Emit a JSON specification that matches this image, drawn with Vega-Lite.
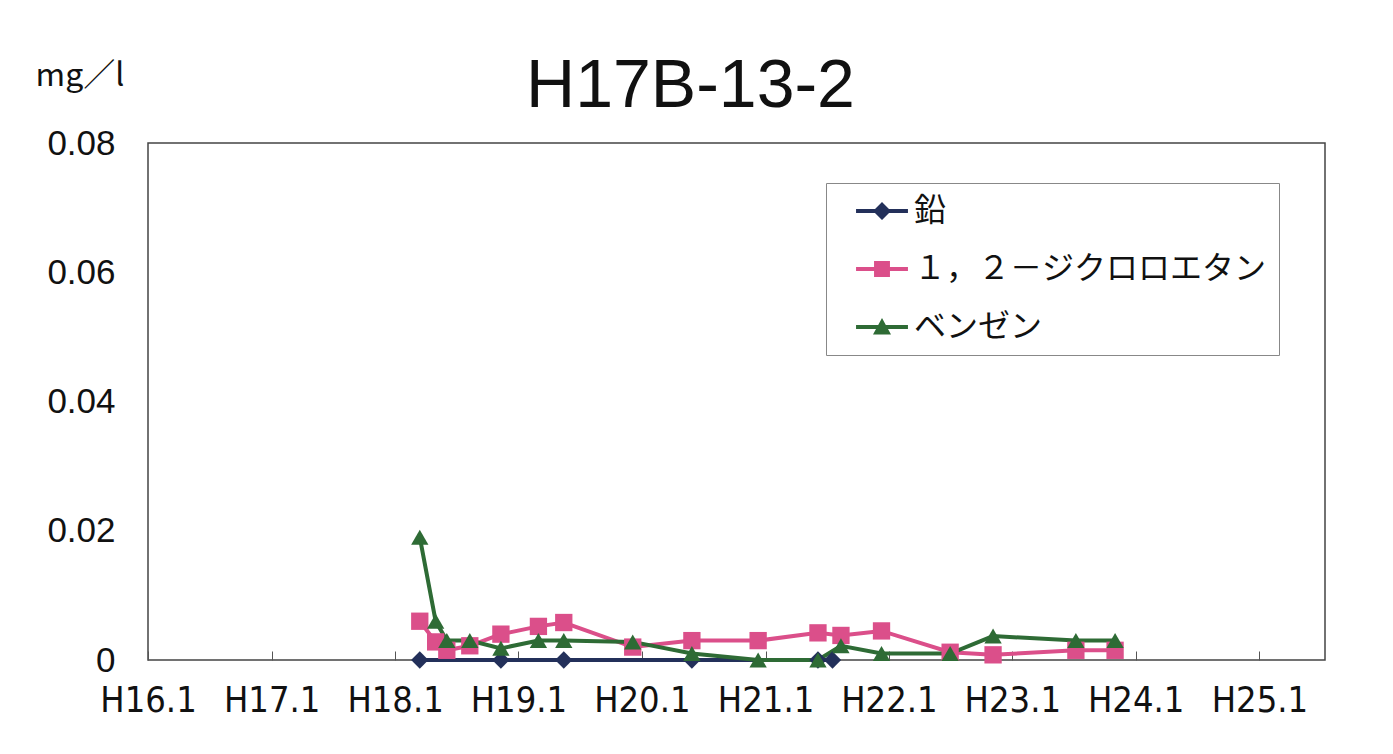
{
  "$schema": "https://vega.github.io/schema/vega-lite/v6.json",
  "width": 1177,
  "height": 517,
  "autosize": {"type": "none"},
  "padding": {"left": 148, "top": 143, "right": 68, "bottom": 94},
  "background": "white",
  "config": {
    "view": {"stroke": "#444", "strokeWidth": 1.5},
    "font": "Liberation Sans"
  },
  "title": {
    "text": "H17B-13-2",
    "font": "Liberation Sans",
    "fontSize": 68,
    "fontWeight": "normal",
    "color": "#111",
    "anchor": "middle",
    "frame": "group",
    "dx": -46,
    "dy": 62,
    "offset": 0
  },
  "data": {
    "values": [
      {"date": "2006-03-15", "series": "鉛", "value": 0},
      {"date": "2006-11-10", "series": "鉛", "value": 0},
      {"date": "2007-05-15", "series": "鉛", "value": 0},
      {"date": "2008-05-28", "series": "鉛", "value": 0},
      {"date": "2009-06-05", "series": "鉛", "value": 0},
      {"date": "2009-07-18", "series": "鉛", "value": 0},
      {"date": "2006-03-15", "series": "１，２－ジクロロエタン", "value": 0.006},
      {"date": "2006-05-01", "series": "１，２－ジクロロエタン", "value": 0.0028},
      {"date": "2006-06-03", "series": "１，２－ジクロロエタン", "value": 0.0015},
      {"date": "2006-08-10", "series": "１，２－ジクロロエタン", "value": 0.0022},
      {"date": "2006-11-10", "series": "１，２－ジクロロエタン", "value": 0.004},
      {"date": "2007-03-01", "series": "１，２－ジクロロエタン", "value": 0.0052},
      {"date": "2007-05-15", "series": "１，２－ジクロロエタン", "value": 0.0058},
      {"date": "2007-12-05", "series": "１，２－ジクロロエタン", "value": 0.002},
      {"date": "2008-05-28", "series": "１，２－ジクロロエタン", "value": 0.003},
      {"date": "2008-12-10", "series": "１，２－ジクロロエタン", "value": 0.003},
      {"date": "2009-06-05", "series": "１，２－ジクロロエタン", "value": 0.0042},
      {"date": "2009-08-12", "series": "１，２－ジクロロエタン", "value": 0.0038},
      {"date": "2009-12-10", "series": "１，２－ジクロロエタン", "value": 0.0045},
      {"date": "2010-07-01", "series": "１，２－ジクロロエタン", "value": 0.0012},
      {"date": "2010-11-05", "series": "１，２－ジクロロエタン", "value": 0.0008},
      {"date": "2011-07-08", "series": "１，２－ジクロロエタン", "value": 0.0015},
      {"date": "2011-11-01", "series": "１，２－ジクロロエタン", "value": 0.0015},
      {"date": "2006-03-15", "series": "ベンゼン", "value": 0.019},
      {"date": "2006-05-01", "series": "ベンゼン", "value": 0.006},
      {"date": "2006-06-03", "series": "ベンゼン", "value": 0.003},
      {"date": "2006-08-10", "series": "ベンゼン", "value": 0.003},
      {"date": "2006-11-10", "series": "ベンゼン", "value": 0.0018},
      {"date": "2007-03-01", "series": "ベンゼン", "value": 0.003},
      {"date": "2007-05-15", "series": "ベンゼン", "value": 0.003},
      {"date": "2007-12-05", "series": "ベンゼン", "value": 0.0028},
      {"date": "2008-05-28", "series": "ベンゼン", "value": 0.001},
      {"date": "2008-12-10", "series": "ベンゼン", "value": 0},
      {"date": "2009-06-05", "series": "ベンゼン", "value": 0},
      {"date": "2009-08-12", "series": "ベンゼン", "value": 0.0022},
      {"date": "2009-12-10", "series": "ベンゼン", "value": 0.001},
      {"date": "2010-07-01", "series": "ベンゼン", "value": 0.001},
      {"date": "2010-11-05", "series": "ベンゼン", "value": 0.0037},
      {"date": "2011-07-08", "series": "ベンゼン", "value": 0.003},
      {"date": "2011-11-01", "series": "ベンゼン", "value": 0.003}
    ],
    "format": {"parse": {"date": "utc:'%Y-%m-%d'"}}
  },
  "encoding": {
    "x": {
      "field": "date",
      "type": "temporal",
      "scale": {
        "type": "utc",
        "domain": [
          {"year": 2004, "month": 1, "date": 1, "utc": true},
          {"year": 2013, "month": 7, "date": 14, "utc": true}
        ]
      },
      "axis": {
        "title": null,
        "domain": false,
        "grid": false,
        "values": [
          {"year": 2004, "month": 1, "date": 1, "utc": true},
          {"year": 2005, "month": 1, "date": 1, "utc": true},
          {"year": 2006, "month": 1, "date": 1, "utc": true},
          {"year": 2007, "month": 1, "date": 1, "utc": true},
          {"year": 2008, "month": 1, "date": 1, "utc": true},
          {"year": 2009, "month": 1, "date": 1, "utc": true},
          {"year": 2010, "month": 1, "date": 1, "utc": true},
          {"year": 2011, "month": 1, "date": 1, "utc": true},
          {"year": 2012, "month": 1, "date": 1, "utc": true},
          {"year": 2013, "month": 1, "date": 1, "utc": true}
        ],
        "labelExpr": "'H' + (utcyear(datum.value) - 1988) + '.1'",
        "labelFont": "DejaVu Sans Condensed",
        "labelFontSize": 36,
        "labelColor": "#111",
        "labelPadding": 49,
        "labelBaseline": "middle",
        "labelFlush": false,
        "labelOverlap": false,
        "ticks": true,
        "tickSize": -9,
        "tickColor": "#555",
        "tickWidth": 1
      }
    },
    "y": {
      "field": "value",
      "type": "quantitative",
      "scale": {"domain": [0, 0.08], "nice": false},
      "axis": {
        "values": [0, 0.02, 0.04, 0.06, 0.08],
        "labelExpr": "datum.value === 0 ? '0' : format(datum.value, '.2f')",
        "labelFont": "Liberation Sans",
        "labelFontSize": 35,
        "labelColor": "#111",
        "labelPadding": 33,
        "ticks": false,
        "domain": false,
        "grid": false,
        "title": "mg／l",
        "titleFont": "Noto Sans CJK JP",
        "titleFontSize": 32,
        "titleFontWeight": "normal",
        "titleColor": "#111",
        "titleAngle": 0,
        "titleAlign": "left",
        "titleBaseline": "middle",
        "titleX": -113,
        "titleY": -68
      }
    },
    "color": {
      "field": "series",
      "type": "nominal",
      "scale": {
        "domain": ["鉛", "１，２－ジクロロエタン", "ベンゼン"],
        "range": ["#23305A", "#DB4F8A", "#2E6B35"]
      },
      "legend": {
        "title": null,
        "orient": "none",
        "legendX": 678,
        "legendY": 40,
        "strokeColor": "#888",
        "fillColor": "white",
        "padding": 12,
        "rowPadding": 26,
        "symbolSize": 900,
        "symbolOffset": 28,
        "symbolStrokeWidth": 0,
        "labelOffset": 16,
        "labelFont": "Noto Sans CJK JP",
        "labelFontSize": 32,
        "labelColor": "#111",
        "labelLimit": 600,
        "encode": {
          "symbols": {
            "update": {
              "shape": {"signal": "datum.value === '鉛' ? 'M-1.73,-0.13L1.73,-0.13L1.73,0.13L-1.73,0.13ZM0,-0.6L0.6,0L0,0.6L-0.6,0Z' : datum.value === 'ベンゼン' ? 'M-1.73,-0.13L1.73,-0.13L1.73,0.13L-1.73,0.13ZM0,-0.6L0.6,0.5L-0.6,0.5Z' : 'M-1.73,-0.13L1.73,-0.13L1.73,0.13L-1.73,0.13ZM-0.53,-0.53L0.53,-0.53L0.53,0.53L-0.53,0.53Z'"},
              "fill": {"scale": "color", "field": "value"},
              "strokeWidth": {"value": 0},
              "opacity": {"value": 1}
            }
          }
        }
      }
    }
  },
  "layer": [
    {
      "mark": {"type": "line", "strokeWidth": 4},
      "encoding": {}
    },
    {
      "transform": [{"filter": "datum.series === '鉛'"}],
      "mark": {"type": "point", "filled": true, "opacity": 1, "size": 300, "shape": "diamond"},
      "encoding": {}
    },
    {
      "transform": [{"filter": "datum.series === '１，２－ジクロロエタン'"}],
      "mark": {"type": "point", "filled": true, "opacity": 1, "size": 300, "shape": "square"},
      "encoding": {}
    },
    {
      "transform": [{"filter": "datum.series === 'ベンゼン'"}],
      "mark": {"type": "point", "filled": true, "opacity": 1, "size": 300, "shape": "triangle-up"},
      "encoding": {}
    }
  ]
}
